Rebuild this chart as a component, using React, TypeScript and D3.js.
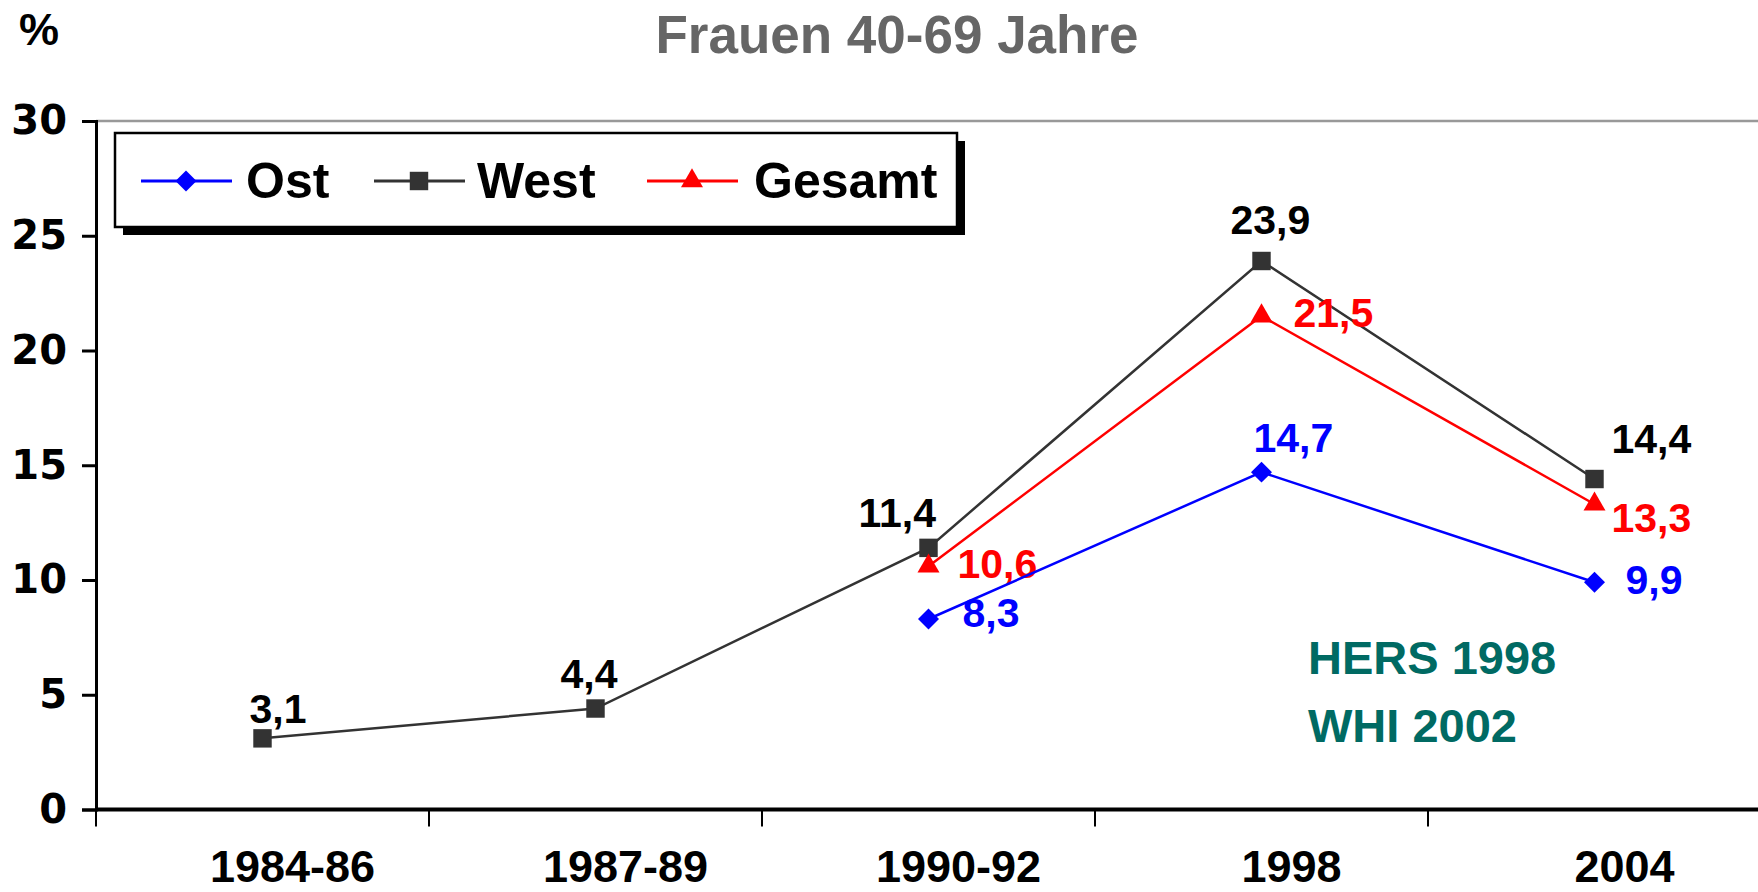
import { useRef, useEffect } from "react";
import * as d3 from "d3";

// data
const categories = ["1984-86", "1987-89", "1990-92", "1998", "2004"];
const westValues: (number | null)[] = [3.1, 4.4, 11.4, 23.9, 14.4];
const gesamtValues: (number | null)[] = [null, null, 10.6, 21.5, 13.3];
const ostValues: (number | null)[] = [null, null, 8.3, 14.7, 9.9];
const yTicks = [0, 5, 10, 15, 20, 25, 30];
const noteLines = ["HERS 1998", "WHI 2002"];

// label offsets relative to each point (dx, dy of baseline), text-anchor start
const westLabelOffsets = [[-13, -15], [-35, -21], [-70, -21], [-31, -27], [17, -26]];
const gesamtLabelOffsets = [[0, 0], [0, 0], [29, 12], [32, 11], [17, 28]];
const ostLabelOffsets = [[0, 0], [0, 0], [34, 8], [-8, -20], [31, 12]];

const W = 1758;
const H = 892;
const FONT = "'Liberation Sans', Arial, sans-serif";

interface Series {
  name: string;
  values: (number | null)[];
  color: string;
  marker: "diamond" | "square" | "triangle";
  offsets: number[][];
}

const series: Series[] = [
  { name: "West", values: westValues, color: "#333333", marker: "square", offsets: westLabelOffsets },
  { name: "Gesamt", values: gesamtValues, color: "#ff0000", marker: "triangle", offsets: gesamtLabelOffsets },
  { name: "Ost", values: ostValues, color: "#0000ff", marker: "diamond", offsets: ostLabelOffsets },
];

const legendOrder = ["Ost", "West", "Gesamt"];

function markerPath(kind: string) {
  if (kind === "square") return d3.symbol(d3.symbolSquare, 340)()!;
  if (kind === "triangle") return d3.symbol(d3.symbolTriangle, 210)()!;
  return d3.symbol(d3.symbolSquare, 220)()!;
}

const App: React.FC = () => {
  const svgRef = useRef<SVGSVGElement | null>(null);

  useEffect(() => {
    if (!svgRef.current) return;
    const svg = d3.select(svgRef.current);
    svg.selectAll("*").remove();

    const x = d3.scaleBand<string>().domain(categories).range([96, 1761]).padding(0);
    const y = d3.scaleLinear().domain([0, 30]).range([809.5, 121]);
    const cx = (c: string) => x(c)! + x.bandwidth() / 2;

    // title and unit
    svg.append("text").attr("x", 897).attr("y", 53).attr("text-anchor", "middle")
      .attr("font-family", FONT).attr("font-weight", "bold").attr("font-size", 53)
      .attr("fill", "#666666").text("Frauen 40-69 Jahre");
    svg.append("text").attr("x", 19).attr("y", 45)
      .attr("font-family", FONT).attr("font-weight", "bold").attr("font-size", 45)
      .attr("fill", "#000").text("%");

    // top border line
    svg.append("line").attr("x1", 96).attr("x2", W).attr("y1", y(30)).attr("y2", y(30))
      .attr("stroke", "#999").attr("stroke-width", 2.5);

    // y axis
    const yAxis = svg.append("g").attr("transform", "translate(96,0)")
      .call(d3.axisLeft(y).tickValues(yTicks).tickSize(14).tickPadding(15).tickFormat(d3.format("d")));
    yAxis.select(".domain").attr("stroke", "#000").attr("stroke-width", 3);
    yAxis.selectAll(".tick line").attr("stroke", "#000").attr("stroke-width", 3);
    yAxis.selectAll(".tick text").attr("font-family", "'DejaVu Sans', sans-serif")
      .attr("font-weight", "bold").attr("font-size", 40).attr("fill", "#000");

    // x axis
    const xAxis = svg.append("g").attr("transform", `translate(0,${y(0)})`)
      .call(d3.axisBottom(x).tickSize(0).tickPadding(0));
    xAxis.select(".domain").remove();
    xAxis.selectAll(".tick text").remove();
    xAxis.append("line").attr("x1", 96).attr("x2", W).attr("stroke", "#000").attr("stroke-width", 4);
    xAxis.selectAll(".sep").data(categories).enter().append("line")
      .attr("x1", (d) => x(d)!).attr("x2", (d) => x(d)!)
      .attr("y1", 0).attr("y2", 17).attr("stroke", "#000").attr("stroke-width", 2);
    xAxis.selectAll(".lbl").data(categories).enter().append("text")
      .attr("x", (d) => cx(d) + 30).attr("y", 72).attr("text-anchor", "middle")
      .attr("font-family", FONT).attr("font-weight", "bold").attr("font-size", 45)
      .attr("fill", "#000").text((d) => d);

    // lines and markers
    for (const s of series) {
      const pts = categories.map((c, i) => ({ c, v: s.values[i], i }));
      const line = d3.line<{ c: string; v: number | null }>()
        .defined((d) => d.v !== null)
        .x((d) => cx(d.c))
        .y((d) => y(d.v as number));
      svg.append("path").datum(pts).attr("fill", "none").attr("stroke", s.color)
        .attr("stroke-width", 2.5).attr("d", line);
      const valid = pts.filter((d) => d.v !== null);
      svg.selectAll(null).data(valid).enter().append("path")
        .attr("d", markerPath(s.marker))
        .attr("transform", (d) => `translate(${cx(d.c)},${y(d.v as number)})${s.marker === "diamond" ? " rotate(45)" : ""}`)
        .attr("fill", s.color);
      svg.selectAll(null).data(valid).enter().append("text")
        .attr("x", (d) => cx(d.c) + s.offsets[d.i][0])
        .attr("y", (d) => y(d.v as number) + s.offsets[d.i][1])
        .attr("font-family", FONT).attr("font-weight", "bold").attr("font-size", 41)
        .attr("fill", s.color === "#333333" ? "#000" : s.color)
        .text((d) => (d.v as number).toFixed(1).replace(".", ","));
    }

    // annotation
    svg.selectAll(null).data(noteLines).enter().append("text")
      .attr("x", 1308).attr("y", (_d, i) => 674 + i * 68)
      .attr("font-family", FONT).attr("font-weight", "bold").attr("font-size", 47)
      .attr("fill", "#006a63").text((d) => d);

    // legend
    const lg = svg.append("g");
    lg.append("rect").attr("x", 123).attr("y", 141).attr("width", 842).attr("height", 94).attr("fill", "#000");
    lg.append("rect").attr("x", 115).attr("y", 133).attr("width", 842).attr("height", 94)
      .attr("fill", "#fff").attr("stroke", "#000").attr("stroke-width", 2.5);
    const lineStarts = [141, 374, 647];
    const textStarts = [246, 477, 754];
    legendOrder.forEach((name, i) => {
      const s = series.find((d) => d.name === name)!;
      const x0 = lineStarts[i];
      lg.append("line").attr("x1", x0).attr("x2", x0 + 91).attr("y1", 181).attr("y2", 181)
        .attr("stroke", s.color).attr("stroke-width", 3);
      lg.append("path").attr("d", markerPath(s.marker))
        .attr("transform", `translate(${x0 + 45},181)${s.marker === "diamond" ? " rotate(45)" : ""}`)
        .attr("fill", s.color);
      lg.append("text").attr("x", textStarts[i]).attr("y", 198)
        .attr("font-family", FONT).attr("font-weight", "bold").attr("font-size", 50)
        .attr("fill", "#000").text(name);
    });
  }, []);

  return (
    <svg ref={svgRef} width={W} height={H}
      style={{ position: "absolute", left: 0, top: 0, background: "#fff" }} />
  );
};

export default App;
